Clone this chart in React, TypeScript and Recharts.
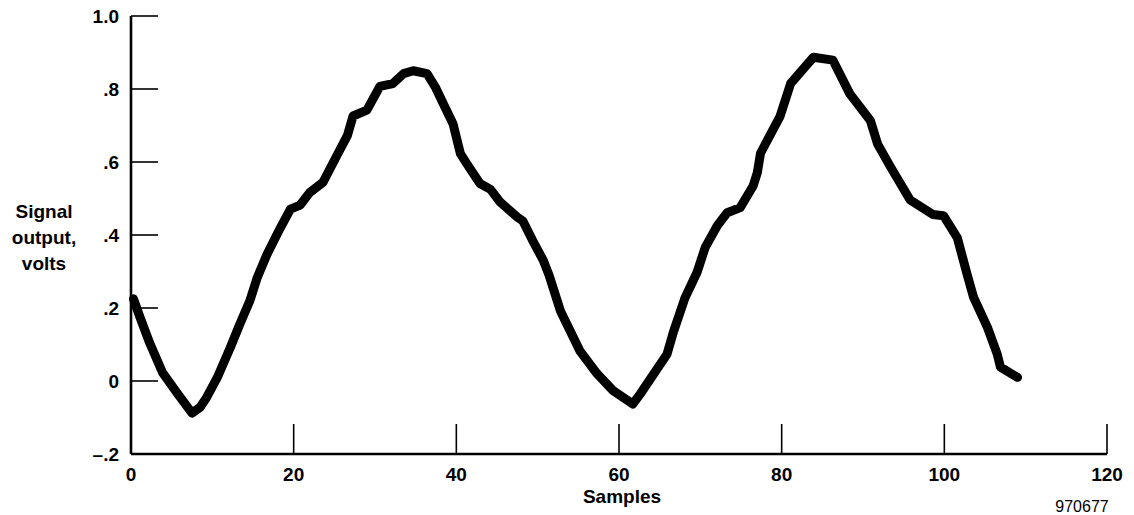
import React from "react";
import { LineChart, Line, XAxis, YAxis } from "recharts";

// sample index and measured output voltage
const samples = [
  0.3, 1.1, 2.3, 3.9, 5.7, 7.5, 8.5, 9.3, 10.6, 12.2, 13.4, 14.6, 15.5, 16.7,
  18.3, 19.6, 20.8, 22.0, 23.6, 25.3, 26.6, 27.3, 29.0, 30.6, 32.2, 33.5, 34.7,
  36.4, 37.4, 38.0, 39.6, 40.5, 41.3, 42.9, 44.2, 45.4, 47.5, 48.2, 49.4, 50.7,
  51.4, 52.8, 55.2, 57.3, 59.3, 61.7, 62.6, 65.9, 66.7, 68.1, 69.6, 70.6, 72.1,
  73.3, 74.9, 76.5, 77.0, 77.4, 79.8, 81.1, 83.9, 86.3, 88.4, 90.9, 91.8, 93.4,
  95.8, 98.6, 99.9, 101.6, 102.8, 103.6, 105.3, 106.5, 106.9, 109.0,
];
const volts = [
  0.225, 0.175, 0.104, 0.022, -0.034, -0.088, -0.072, -0.045, 0.009, 0.091,
  0.157, 0.219, 0.282, 0.346, 0.417, 0.471, 0.482, 0.517, 0.544, 0.617, 0.672,
  0.726, 0.742, 0.807, 0.815, 0.842, 0.85, 0.842, 0.806, 0.778, 0.704, 0.623,
  0.595, 0.541, 0.525, 0.49, 0.449, 0.438, 0.384, 0.33, 0.29, 0.192, 0.082,
  0.02, -0.027, -0.063, -0.036, 0.073, 0.135, 0.227, 0.298, 0.366, 0.426, 0.461,
  0.475, 0.535, 0.57, 0.624, 0.725, 0.815, 0.887, 0.879, 0.786, 0.714, 0.649,
  0.586, 0.496, 0.456, 0.453, 0.392, 0.292, 0.229, 0.147, 0.074, 0.038, 0.01,
];
const xTicks = [0, 20, 40, 60, 80, 100, 120];
const yTicks = [-0.2, 0, 0.2, 0.4, 0.6, 0.8, 1.0];

const data = samples.map((s, i) => ({ sample: s, volts: volts[i] }));

const FONT = '"Liberation Sans", Arial, Helvetica, sans-serif';

const fmtVolts = (v: number) => {
  if (v === 0) return "0";
  if (v === 1) return "1.0";
  return (v < 0 ? "\u2013" : "") + Math.abs(v).toFixed(1).replace(/^0/, "");
};

// x ticks point up into the plot, labels sit under the axis
function SampleTick({ x, y, payload }: any) {
  return (
    <g>
      {payload.value !== 0 && (
        <line x1={x} y1={y} x2={x} y2={y - 30} stroke="#000" strokeWidth={1.6} />
      )}
      <text
        x={x}
        y={y + 27}
        textAnchor="middle"
        fontFamily={FONT}
        fontWeight="bold"
        fontSize={19}
        fill="#000"
      >
        {payload.value}
      </text>
    </g>
  );
}

// y ticks point right into the plot
function VoltTick({ x, y, payload }: any) {
  return (
    <g>
      {payload.value !== -0.2 && (
        <line x1={x} y1={y} x2={x + 27} y2={y} stroke="#000" strokeWidth={1.6} />
      )}
      <text
        x={x - 12}
        y={y + 7}
        textAnchor="end"
        fontFamily={FONT}
        fontWeight="bold"
        fontSize={19}
        fill="#000"
      >
        {fmtVolts(payload.value)}
      </text>
    </g>
  );
}

const textStyle: React.CSSProperties = {
  position: "absolute",
  fontFamily: FONT,
  fontWeight: "bold",
  fontSize: 19,
  lineHeight: "26px",
  textAlign: "center",
  color: "#000",
};

export default function App() {
  return (
    <div
      style={{
        position: "fixed",
        left: 0,
        top: 0,
        width: 1134,
        height: 515,
        overflow: "hidden",
        background: "#fff",
      }}
    >
      <LineChart
        width={1134}
        height={515}
        data={data}
        margin={{ top: 16, right: 27, bottom: 21, left: 71 }}
      >
        <XAxis
          dataKey="sample"
          type="number"
          domain={[0, 120]}
          ticks={xTicks}
          height={40}
          tickSize={0}
          tickMargin={0}
          tickLine={false}
          axisLine={{ stroke: "#000", strokeWidth: 2.6 }}
          tick={<SampleTick />}
        />
        <YAxis
          type="number"
          domain={[-0.2, 1.0]}
          ticks={yTicks}
          width={60}
          tickSize={0}
          tickMargin={0}
          tickLine={false}
          axisLine={{ stroke: "#000", strokeWidth: 2.6 }}
          tick={<VoltTick />}
        />
        <Line
          type="linear"
          dataKey="volts"
          stroke="#000"
          strokeWidth={9}
          strokeLinejoin="round"
          strokeLinecap="round"
          dot={false}
          activeDot={false}
          isAnimationActive={false}
        />
      </LineChart>
      <div style={{ ...textStyle, left: 0, top: 199, width: 88 }}>
        Signal
        <br />
        output,
        <br />
        volts
      </div>
      <div style={{ ...textStyle, lineHeight: "22px", left: 522, top: 486, width: 200 }}>
        Samples
      </div>
      <div
        style={{
          ...textStyle,
          fontWeight: "normal",
          fontSize: 16,
          lineHeight: "16px",
          left: 1032,
          top: 499,
          width: 100,
        }}
      >
        970677
      </div>
    </div>
  );
}
